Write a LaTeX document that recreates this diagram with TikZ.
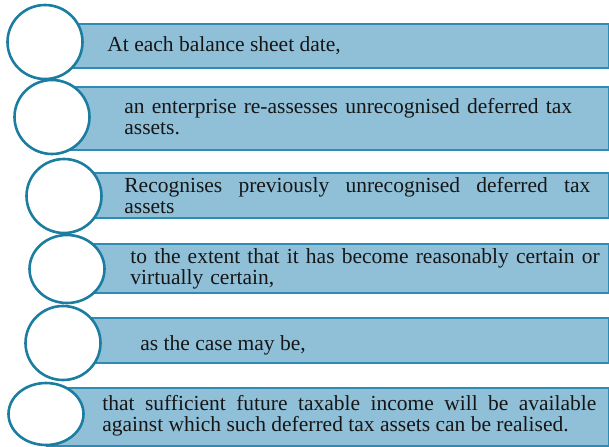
\documentclass[tikz,border=0pt]{standalone}
\usepackage{fontspec}
\setmainfont{Liberation Serif}
\usepackage{xcolor}
\usetikzlibrary{shapes.geometric}

\definecolor{barfill}{RGB}{144,191,216}
\definecolor{barline}{RGB}{46,139,180}
\definecolor{ringline}{RGB}{27,125,160}
\definecolor{inktext}{RGB}{22,22,22}

\begin{document}
\begin{tikzpicture}[
    x=0.5pt, y=-0.5pt,
    every node/.style={font=\fontsize{10.75pt}{10.75pt}\selectfont, text=inktext},
    bar/.style={rectangle, draw=barline, line width=0.8pt, fill=barfill, anchor=north west, inner sep=0pt},
    ring/.style={ellipse, draw=ringline, line width=1.3pt, fill=white, inner sep=0pt, minimum width=37.5pt, minimum height=37pt},
    txt/.style={anchor=base west, inner sep=0pt, align=left},
    jtxt/.style={txt, align=justify}
]
\useasboundingbox (0,0) rectangle (609,446);

% ============================================================
% BARS
% ============================================================
\node[bar, minimum width=281.5pt, minimum height=22pt]   (b1) at (45,23)  {};
\node[bar, minimum width=278pt,   minimum height=31.5pt] (b2) at (52,86)  {};
\node[bar, minimum width=272pt,   minimum height=22.5pt] (b3) at (64,172) {};
\node[bar, minimum width=270.5pt, minimum height=24.5pt] (b4) at (67,243) {};
\node[bar, minimum width=272.5pt, minimum height=22.5pt] (b5) at (63,317) {};
\node[bar, minimum width=281pt,   minimum height=29pt]   (b6) at (46,387) {};

% ============================================================
% CIRCLES
% ============================================================
\node[ring] (c1) at (45,42)  {};
\node[ring] (c2) at (52,117) {};
\node[ring] (c3) at (64,196) {};
\node[ring, minimum height=34pt] (c4) at (67,269) {};
\node[ring] (c5) at (63,343) {};
\node[ring, minimum height=31pt] (c6) at (46,414) {};

% ============================================================
% TEXTS
% ============================================================
\node[txt] (t1) at (107,51) {At each balance sheet date,};
\node[txt, text width=240pt] (t2) at (124,113)
    {an enterprise re-assesses unrecognised deferred tax\\assets.};
\node[jtxt, text width=233pt] (t3) at (124,192)
    {Recognises previously unrecognised deferred tax\linebreak assets};
\node[txt, text width=238pt] (t4) at (130,263)
    {to the extent that it has become reasonably certain or\\virtually certain,};
\node[txt] (t5) at (140,350) {as the case may be,};
\node[jtxt, text width=247pt] (t6) at (102,410)
    {that sufficient future taxable income will be available\linebreak against which such deferred tax assets can be realised.};

\end{tikzpicture}
\end{document}
